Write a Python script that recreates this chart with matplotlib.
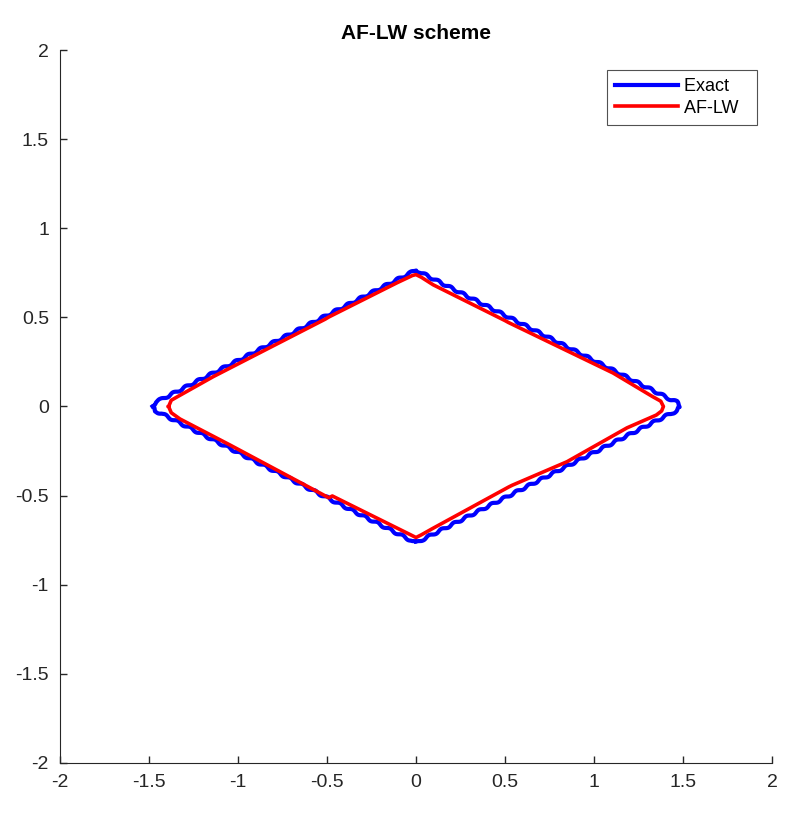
import matplotlib.pyplot as plt
from matplotlib.lines import Line2D

plt.rcParams['font.family'] = ['Liberation Sans', 'DejaVu Sans']

### curve points (data units)
exact_x = [-1.48, -1.465, -1.43, -0.03, 0.0, 0.03, 1.43, 1.465, 1.485,
           1.465, 1.43, 0.03, 0.0, -0.03, -1.43, -1.465, -1.48]
exact_y = [0.0, 0.025, 0.04, 0.75, 0.765, 0.75, 0.04, 0.025, 0.0,
           -0.025, -0.04, -0.75, -0.765, -0.75, -0.04, -0.025, 0.0]

aflw_x = [-1.39, -1.375, -1.34, -1.14, -0.51, -0.49, -0.107, -0.02, 0.0,
          0.03, 0.096, 0.50, 0.52, 1.107, 1.33, 1.375, 1.39, 1.38, 1.35,
          1.185, 0.848, 0.54, 0.52, 0.096, 0.03, 0.0, -0.03, -0.47, -0.49,
          -1.045, -1.326, -1.375, -1.39]
aflw_y = [0.0, 0.035, 0.055, 0.167, 0.49, 0.502, 0.694, 0.735, 0.74,
          0.725, 0.683, 0.482, 0.471, 0.188, 0.055, 0.03, 0.0, -0.025, -0.048,
          -0.12, -0.31, -0.442, -0.452, -0.683, -0.72, -0.735, -0.72, -0.502, -0.512,
          -0.216, -0.07, -0.035, 0.0]

x_ticks = [-2, -1.5, -1, -0.5, 0, 0.5, 1, 1.5, 2]
y_ticks = [-2, -1.5, -1, -0.5, 0, 0.5, 1, 1.5, 2]
tick_labels = ['-2', '-1.5', '-1', '-0.5', '0', '0.5', '1', '1.5', '2']

fig = plt.figure(figsize=(7.98, 8.17), dpi=100)
ax = fig.add_axes([0.0752, 0.0661, 0.8922, 0.8727])

### exact solution gets the small grid wiggle
exact_line, = ax.plot(exact_x, exact_y, color='#0000ff', linewidth=3.0)
exact_line.set_sketch_params(scale=1.1, length=14, randomness=1)
ax.plot(aflw_x, aflw_y, color='#ff0000', linewidth=2.6)

ax.set_xlim(-2, 2)
ax.set_ylim(-2, 2)
ax.set_xticks(x_ticks)
ax.set_yticks(y_ticks)
ax.set_xticklabels(tick_labels)
ax.set_yticklabels(tick_labels)

ax.set_title('AF-LW scheme', fontsize=15, fontweight='bold', pad=8)

### matlab-ish axes: only left and bottom, ticks inward
ax.spines['top'].set_visible(False)
ax.spines['right'].set_visible(False)
ax.spines['left'].set_color('#262626')
ax.spines['bottom'].set_color('#262626')
ax.tick_params(direction='in', length=5, width=1, colors='#262626',
               labelsize=14, labelcolor='#262626', pad=8)

### plain legend handles so the wiggle does not show up in the box
handles = [Line2D([], [], color='#0000ff', linewidth=3.0),
           Line2D([], [], color='#ff0000', linewidth=2.6)]
leg = ax.legend(handles, ['Exact  ', 'AF-LW  '], loc='upper right',
                bbox_to_anchor=(0.979, 0.972), fontsize=13,
                frameon=True, fancybox=False, edgecolor='#262626',
                handlelength=3.5, borderpad=0.45, labelspacing=0.25,
                handletextpad=0.35, borderaxespad=0)
leg.get_frame().set_linewidth(0.8)

fig.savefig('out.png', dpi=100)
